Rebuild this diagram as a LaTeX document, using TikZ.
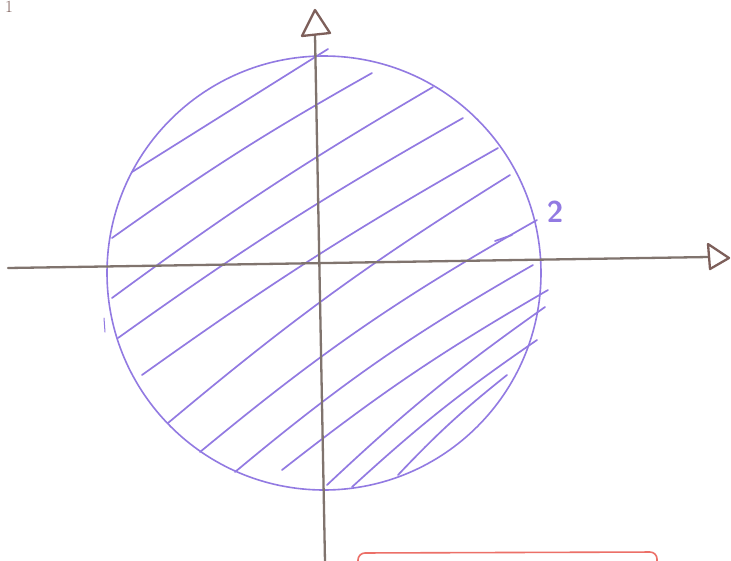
\documentclass[tikz,border=0pt]{standalone}
\usepackage{tikz}
\definecolor{hatch}{RGB}{146,122,226}
\definecolor{axisc}{RGB}{128,116,110}
\definecolor{tipc}{RGB}{125,95,90}
\definecolor{boxred}{RGB}{236,112,104}
\begin{document}
\begin{tikzpicture}[x=1pt,y=-1pt,
  hl/.style={draw=hatch,line width=1.7pt,line cap=round},
  axisline/.style={draw=axisc,line width=2.3pt,line cap=round},
  tiptri/.style={draw=tipc,line width=2.3pt,fill=white,line join=round}]
\useasboundingbox (0,0) rectangle (731,560);
\clip (0,0) rectangle (731,560);
\fill[white] (0,0) rectangle (731,560);
% corner "1"
\node[anchor=south,inner sep=0pt,text=tipc,font=\fontsize{17}{17}\selectfont] (one) at (9,13) {1};
% red box at bottom
\draw[boxred,line width=1.6pt,rounded corners=7pt] (358,600) -- (358,553) -- (657,552) -- (657,600);
% circle
\draw[hatch,line width=1.6pt] (324,273) circle[radius=217pt];
% hatching
\draw[hl] (132,172) -- (328,49);
\draw[hl] (112,238) to[bend left=3] (372,73);
\draw[hl] (112,298) to[bend left=3] (433,87);
\draw[hl] (118,338) to[bend left=3] (463,118);
\draw[hl] (142,375) to[bend left=3] (498,148);
\draw[hl] (168,423) to[bend left=4] (510,175);
\draw[hl] (200,452) to[bend left=5] (537,220);
\draw[hl] (235,472) to[bend left=5] (533,265);
\draw[hl] (282,470) to[bend left=4] (548,290);
\draw[hl] (327,485) to[bend left=4] (545,307);
\draw[hl] (352,487) to[bend left=4] (537,340);
\draw[hl] (398,475) to[bend left=4] (507,375);
\draw[hl] (495,241) -- (512,235);
\draw[hl,line width=1pt] (104,318) -- (105,332);
% label 2
\node[text=hatch,font=\sffamily\bfseries\fontsize{30}{30}\selectfont,inner sep=0pt] (two) at (555,212) {2};
% axes
\coordinate (xs) at (8,268);
\coordinate (xe) at (709,257);
\coordinate (ys) at (325,562);
\coordinate (ye) at (315,35);
\draw[axisline] (xs) -- (xe);
\draw[axisline] (ys) -- (ye);
\draw[tiptri] (708,244) -- (729,258) -- (710,269) -- cycle;
\draw[tiptri] (302,36) -- (315,10) -- (330,33) -- cycle;
\end{tikzpicture}
\end{document}
